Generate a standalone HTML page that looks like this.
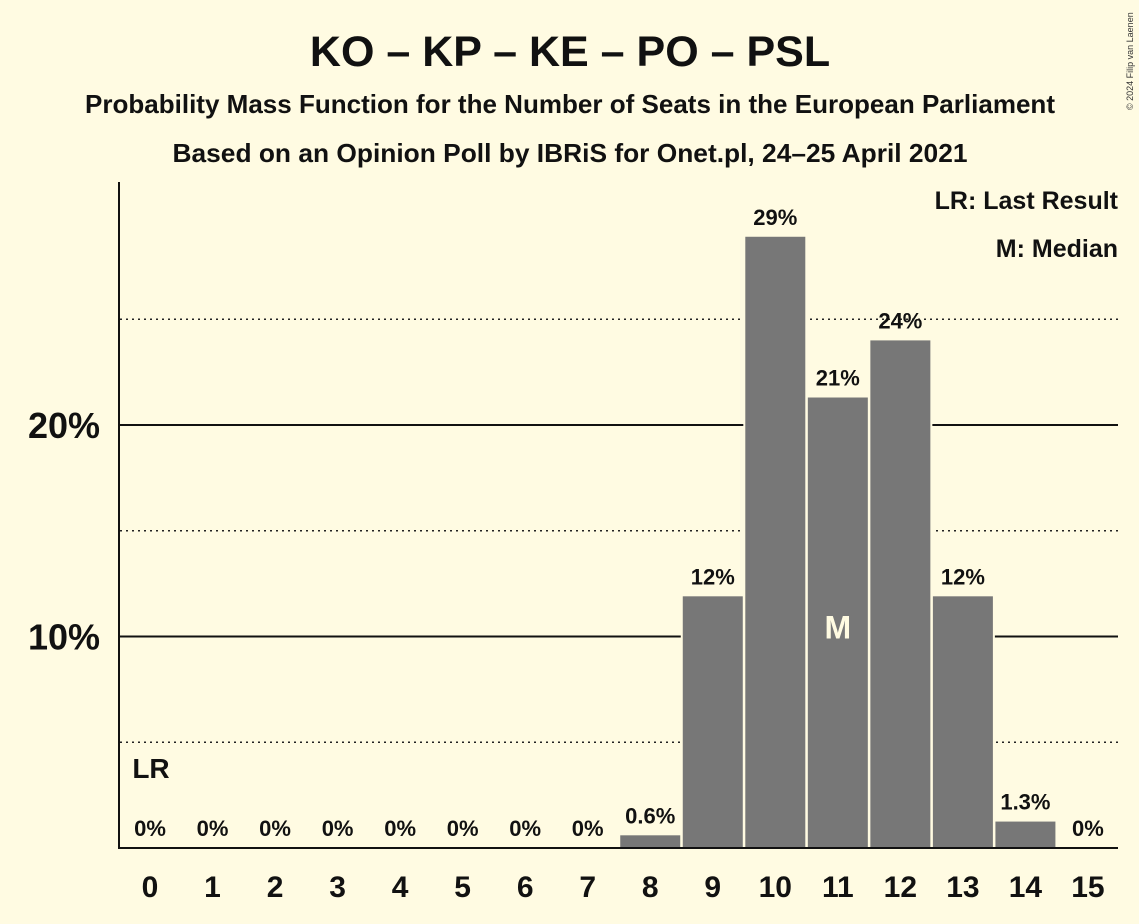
<!DOCTYPE html>
<html><head><meta charset="utf-8"><style>
body{margin:0;background:#fffbe2;}
svg{display:block;font-family:"Liberation Sans",sans-serif;font-weight:bold;}
</style></head><body>
<svg id="chart" width="1139" height="924" viewBox="0 0 1139 924">
<rect width="1139" height="924" fill="#fffbe2"/>
<text x="570" y="66" text-anchor="middle" font-size="43" fill="#111">KO – KP – KE – PO – PSL</text>
<text x="570" y="113" text-anchor="middle" font-size="26" textLength="970" lengthAdjust="spacingAndGlyphs" fill="#111">Probability Mass Function for the Number of Seats in the European Parliament</text>
<text x="570" y="162" text-anchor="middle" font-size="26" textLength="795" lengthAdjust="spacingAndGlyphs" fill="#111">Based on an Opinion Poll by IBRiS for Onet.pl, 24–25 April 2021</text>
<text transform="translate(1133,110) rotate(-90)" font-size="9" font-weight="normal" fill="#333">© 2024 Filip van Laenen</text>
<g id="grid"></g>
<g id="bars"></g>
<g id="labels"></g>
<line x1="119" y1="182" x2="119" y2="849" stroke="#111" stroke-width="2"/>
<line x1="118" y1="848" x2="1118" y2="848" stroke="#111" stroke-width="2"/>
<text x="1118" y="209" text-anchor="end" font-size="25" fill="#111">LR: Last Result</text>
<text x="1118" y="257" text-anchor="end" font-size="25" fill="#111">M: Median</text>
</svg>
<script>
const seats=[0,1,2,3,4,5,6,7,8,9,10,11,12,13,14,15];
const probs=[0,0,0,0,0,0,0,0,0.6,11.9,28.9,21.3,24.0,11.9,1.25,0];
const printed=["0%","0%","0%","0%","0%","0%","0%","0%","0.6%","12%","29%","21%","24%","12%","1.3%","0%"];
const solidTicks=[10,20];
const dottedTicks=[5,15,25];
const tickLabels=["10%","20%"];
const lastResult=0;
const median=11;
const NS="http://www.w3.org/2000/svg";
const X=s=>150+s*62.53;
const Y=v=>848-v*21.15;
const bw=60;
function mk(tag,attrs,parent){const e=document.createElementNS(NS,tag);for(const k in attrs)e.setAttribute(k,attrs[k]);parent.appendChild(e);return e;}
const grid=document.getElementById('grid'),bars=document.getElementById('bars'),labels=document.getElementById('labels');
dottedTicks.forEach(t=>{const l=mk('line',{x1:120,x2:1118,y1:Y(t),y2:Y(t),stroke:'#222','stroke-width':1.5,'stroke-dasharray':'2,4'},grid);

});
solidTicks.forEach((t,i)=>{const l=mk('line',{x1:120,x2:1118,y1:Y(t),y2:Y(t),stroke:'#111','stroke-width':2},grid);


const tx=mk('text',{x:100,y:Y(t)+13,'text-anchor':'end','font-size':36,fill:'#111'},labels);tx.textContent=tickLabels[i];

});
seats.forEach((s,i)=>{
 const v=probs[i];
 if(v>0){const r=mk('rect',{x:X(s)-bw/2-1,y:Y(v)-1,width:bw+2,height:848-Y(v)+1,fill:'#777',stroke:'#fffbe2','stroke-width':2},bars);
 
 }
 const lt=mk('text',{x:X(s),y:(v>0?Y(v):848)-12,'text-anchor':'middle','font-size':22,fill:'#111'},labels);lt.textContent=printed[i];
 
 
 const xt=mk('text',{x:X(s),y:897,'text-anchor':'middle','font-size':30,fill:'#111'},labels);xt.textContent=s;
 
 
});
const m=mk('text',{x:X(median),y:Y(10)+2,'text-anchor':'middle','font-size':32,fill:'#fffbe2'},labels);m.textContent='M';


const lr=mk('text',{x:X(lastResult)+1,y:778,'text-anchor':'middle','font-size':28,fill:'#111'},labels);lr.textContent='LR';


</script>
</body></html>
